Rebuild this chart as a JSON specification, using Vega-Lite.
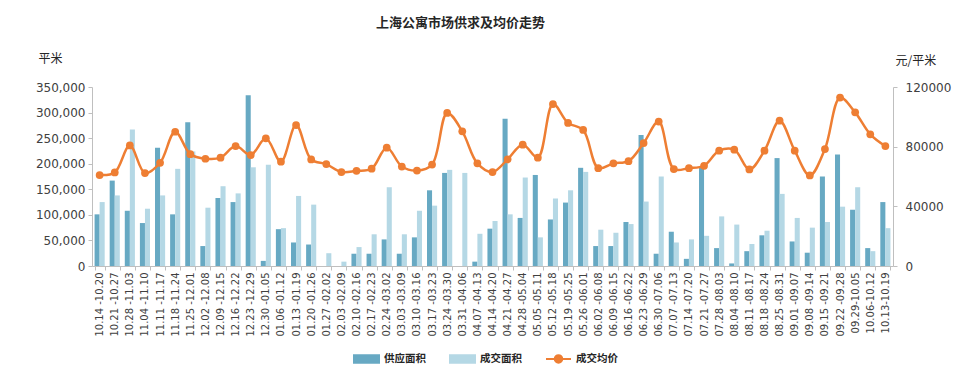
{
  "$schema": "https://vega.github.io/schema/vega-lite/v6.json",
  "width": 801,
  "height": 179,
  "autosize": {"type": "none"},
  "padding": {"left": 92, "top": 87, "right": 67, "bottom": 102},
  "background": "white",
  "title": {
    "text": "上海公寓市场供求及均价走势",
    "font": "Noto Sans CJK SC",
    "fontSize": 13,
    "fontWeight": "bold",
    "color": "#262626",
    "anchor": "middle",
    "dx": -32,
    "offset": 22
  },
  "config": {
    "view": {"stroke": null},
    "axis": {"grid": false, "domainColor": "#BFBFBF", "tickColor": "#BFBFBF", "labelColor": "#404040", "titleColor": "#262626"}
  },
  "data": {
    "values": [
      {"week": "10.14 -10.20", "supply": 101000, "deal": 125000, "price": 61000},
      {"week": "10.21 -10.27", "supply": 167000, "deal": 138000, "price": 62700},
      {"week": "10.28 -11.03", "supply": 108000, "deal": 267000, "price": 80800},
      {"week": "11.04 -11.10", "supply": 84000, "deal": 112000, "price": 62300},
      {"week": "11.11 -11.17", "supply": 231000, "deal": 138000, "price": 69200},
      {"week": "11.18 -11.24", "supply": 101000, "deal": 190000, "price": 90000},
      {"week": "11.25 -12.01", "supply": 281000, "deal": 224000, "price": 75000},
      {"week": "12.02 -12.08", "supply": 39000, "deal": 114000, "price": 71900},
      {"week": "12.09 -12.15", "supply": 133000, "deal": 156000, "price": 72600},
      {"week": "12.16 -12.22", "supply": 125000, "deal": 142000, "price": 80400},
      {"week": "12.23 -12.29", "supply": 334000, "deal": 193000, "price": 74400},
      {"week": "12.30 -01.05", "supply": 10000, "deal": 198000, "price": 85600},
      {"week": "01.06 -01.12", "supply": 72000, "deal": 74000, "price": 69900},
      {"week": "01.13 -01.19", "supply": 46000, "deal": 137000, "price": 94500},
      {"week": "01.20 -01.26", "supply": 42000, "deal": 120000, "price": 71400},
      {"week": "01.27 -02.02", "supply": 0, "deal": 25000, "price": 68300},
      {"week": "02.03 -02.09", "supply": 0, "deal": 8500, "price": 63000},
      {"week": "02.10 -02.16", "supply": 24000, "deal": 37000, "price": 63800},
      {"week": "02.17 -02.23", "supply": 24000, "deal": 62000, "price": 65200},
      {"week": "02.24 -03.02", "supply": 52000, "deal": 154000, "price": 79300},
      {"week": "03.03 -03.09", "supply": 24000, "deal": 62000, "price": 66700},
      {"week": "03.10 -03.16", "supply": 56000, "deal": 108000, "price": 64000},
      {"week": "03.17 -03.23", "supply": 148000, "deal": 118000, "price": 68000},
      {"week": "03.24 -03.30", "supply": 182000, "deal": 188000, "price": 102600},
      {"week": "03.31 -04.06", "supply": 0, "deal": 182000, "price": 90300},
      {"week": "04.07 -04.13", "supply": 8500, "deal": 63000, "price": 68800},
      {"week": "04.14 -04.20", "supply": 73000, "deal": 88000, "price": 63000},
      {"week": "04.21 -04.27", "supply": 288000, "deal": 101000, "price": 71500},
      {"week": "04.28 -05.04", "supply": 94000, "deal": 173000, "price": 81300},
      {"week": "05.05 -05.11", "supply": 178000, "deal": 56000, "price": 72600},
      {"week": "05.12 -05.18", "supply": 91000, "deal": 132000, "price": 108600},
      {"week": "05.19 -05.25", "supply": 124000, "deal": 148000, "price": 95900},
      {"week": "05.26 -06.01", "supply": 192000, "deal": 184000, "price": 91200},
      {"week": "06.02 -06.08", "supply": 39000, "deal": 71000, "price": 65600},
      {"week": "06.09 -06.15", "supply": 39000, "deal": 65000, "price": 68800},
      {"week": "06.16 -06.22", "supply": 86000, "deal": 82000, "price": 70300},
      {"week": "06.23 -06.29", "supply": 256000, "deal": 126000, "price": 82400},
      {"week": "06.30 -07.06", "supply": 24000, "deal": 175000, "price": 96800},
      {"week": "07.07 -07.13", "supply": 67000, "deal": 46000, "price": 65000},
      {"week": "07.14 -07.20", "supply": 14000, "deal": 52000, "price": 65600},
      {"week": "07.21 -07.27", "supply": 195000, "deal": 59000, "price": 67200},
      {"week": "07.28 -08.03", "supply": 35000, "deal": 97000, "price": 77300},
      {"week": "08.04 -08.10", "supply": 5000, "deal": 81000, "price": 78000},
      {"week": "08.11 -08.17", "supply": 29000, "deal": 43000, "price": 64700},
      {"week": "08.18 -08.24", "supply": 60000, "deal": 69000, "price": 77300},
      {"week": "08.25 -08.31", "supply": 211000, "deal": 141000, "price": 97400},
      {"week": "09.01 -09.07", "supply": 48000, "deal": 94000, "price": 77300},
      {"week": "09.08 -09.14", "supply": 26000, "deal": 75000, "price": 60700},
      {"week": "09.15 -09.21", "supply": 175000, "deal": 86000, "price": 78400},
      {"week": "09.22 -09.28", "supply": 218000, "deal": 116000, "price": 112900},
      {"week": "09.29-10.05", "supply": 110000, "deal": 154000, "price": 103000},
      {"week": "10.06-10.12", "supply": 35000, "deal": 29000, "price": 88300},
      {"week": "10.13-10.19", "supply": 125000, "deal": 74000, "price": 80400}
    ]
  },
  "encoding": {
    "x": {
      "field": "week",
      "type": "nominal",
      "sort": null,
      "scale": {"paddingInner": 0.33, "paddingOuter": 0.17},
      "axis": {
        "title": null,
        "labelAngle": -90,
        "labelFont": "DejaVu Sans",
        "labelFontSize": 10,
        "labelPadding": 2,
        "tickBand": "extent",
        "tickSize": 4
      }
    }
  },
  "layer": [
    {
      "transform": [{"fold": ["supply", "deal"], "as": ["series", "value"]}],
      "mark": {"type": "bar"},
      "encoding": {
        "xOffset": {"field": "series", "type": "nominal", "sort": ["supply", "deal"]},
        "y": {
          "field": "value",
          "type": "quantitative",
          "scale": {"domain": [0, 350000], "nice": false},
          "axis": {
            "orient": "left",
            "values": [0, 50000, 100000, 150000, 200000, 250000, 300000, 350000],
            "format": ",.0f",
            "title": "平米",
            "titleAngle": 0,
            "titleAlign": "left",
            "titleBaseline": "middle",
            "titleX": -54,
            "titleY": -29,
            "titleFont": "Noto Sans CJK SC",
            "titleFontSize": 12,
            "titleFontWeight": "normal",
            "labelFont": "DejaVu Sans",
            "labelFontSize": 12,
            "labelPadding": 3,
            "tickSize": 4
          }
        },
        "color": {
          "field": "series",
          "type": "nominal",
          "scale": {"domain": ["supply", "deal", "price"], "range": ["#67A9C3", "#B5D8E5", "#EE7E33"]},
          "legend": {
            "title": null,
            "orient": "none",
            "legendX": 261,
            "legendY": 258,
            "direction": "horizontal",
            "symbolSize": 625,
            "labelFont": "Noto Sans CJK SC",
            "labelFontSize": 10.5,
            "labelFontWeight": "bold",
            "labelColor": "#262626",
            "labelOffset": 4,
            "columnPadding": 20,
            "labelExpr": "datum.label == 'supply' ? '供应面积' : datum.label == 'deal' ? '成交面积' : '成交均价'",
            "encode": {
              "symbols": {
                "update": {
                  "shape": {"signal": "datum.value == 'price' ? 'M-1,0H1M-0.3,0A0.3,0.3 0 1,1 0.3,0A0.3,0.3 0 1,1 -0.3,0Z' : 'M-1,-0.3H1V0.3H-1Z'"},
                  "fill": {"signal": "datum.value == 'price' ? '#EE7E33' : datum.value == 'deal' ? '#B5D8E5' : '#67A9C3'"},
                  "stroke": {"signal": "datum.value == 'price' ? '#EE7E33' : 'transparent'"},
                  "strokeWidth": {"value": 2},
                  "opacity": {"value": 1},
                  "fillOpacity": {"value": 1}
                }
              }
            }
          }
        }
      }
    },
    {
      "layer": [
        {
          "mark": {"type": "line", "interpolate": "catmull-rom", "strokeWidth": 2.5},
          "encoding": {
            "y": {
              "field": "price",
              "type": "quantitative",
              "scale": {"domain": [0, 120000], "nice": false},
              "axis": {
                "orient": "right",
                "values": [0, 20000, 40000, 60000, 80000, 100000, 120000],
                "format": "d",
                "title": "元/平米",
                "titleAngle": 0,
                "titleAlign": "left",
                "titleBaseline": "middle",
                "titleX": 2,
                "titleY": -27,
                "titleFont": "Noto Sans CJK SC",
                "titleFontSize": 12,
                "titleFontWeight": "normal",
                "labelFont": "DejaVu Sans",
                "labelFontSize": 12,
                "labelPadding": 8,
                "tickSize": 4
              }
            },
            "color": {"datum": "price", "type": "nominal"}
          }
        },
        {
          "mark": {"type": "point", "filled": true, "size": 60, "opacity": 1},
          "encoding": {
            "y": {"field": "price", "type": "quantitative"},
            "color": {"datum": "price", "type": "nominal"}
          }
        }
      ]
    }
  ],
  "resolve": {"scale": {"y": "independent"}}
}
